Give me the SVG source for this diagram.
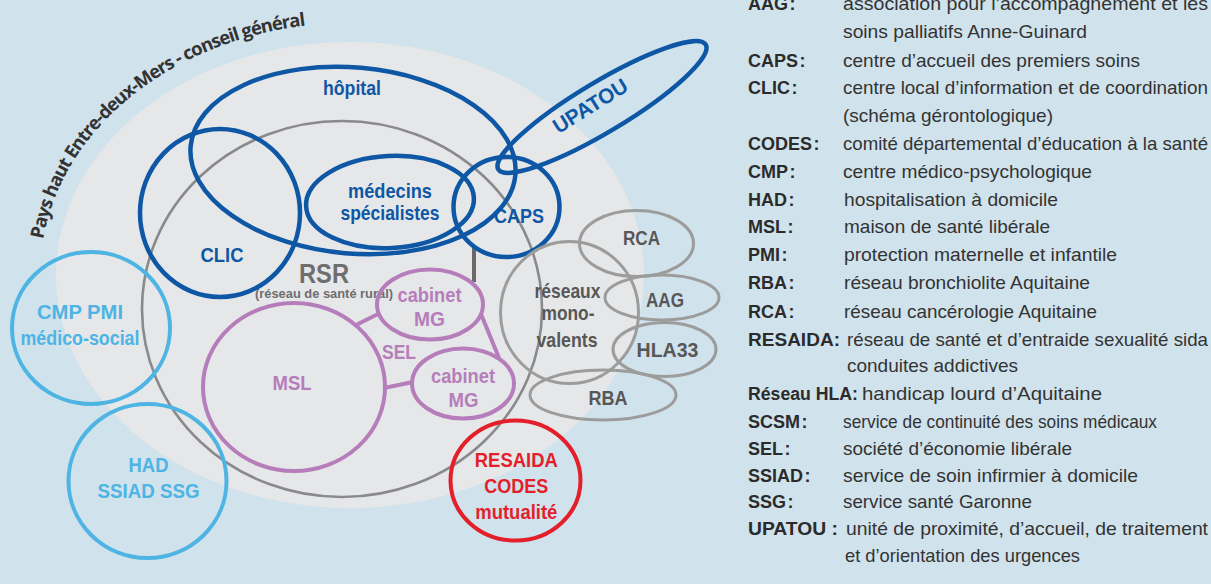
<svg xmlns="http://www.w3.org/2000/svg" width="1211" height="584" viewBox="0 0 1211 584">
  <defs>
    <style>
      .lbl { font-family: "Liberation Sans", Arial, sans-serif; font-weight: bold; font-size: 21px; text-anchor: middle; }
      .blueT { fill: #0d57a5; }
      .lblueT { fill: #4db4e4; }
      .purpT { fill: #b57ebb; }
      .redT { fill: #e31f2a; }
      .grayT { fill: #575757; }
      .rsrT { fill: #6e6e6e; }
      .blue { fill: none; stroke: #0d57a5; stroke-width: 4.5; }
      .lblue { fill: none; stroke: #4db4e4; stroke-width: 4; }
      .purp { fill: none; stroke: #b57ebb; stroke-width: 4; }
      .red { fill: none; stroke: #e31f2a; stroke-width: 4; }
      .gray { fill: none; stroke: #9c9c9c; stroke-width: 3; }
      .rsr { fill: none; stroke: #8a8a8c; stroke-width: 2.6; }
      .key { font-family: "Liberation Sans", Arial, sans-serif; font-weight: bold; font-size: 18px; fill: #2b2b2b; }
      .desc { font-family: "Liberation Sans", Arial, sans-serif; font-size: 18.5px; fill: #333333; }
      .title { font-family: "Open Sans", "Noto Sans", sans-serif; font-weight: 700; font-size: 18.5px; fill: #333333; }
    </style>
    <path id="arc" d="M 40 275 A 310 252 0 0 1 350 23 A 310 252 0 0 1 660 275"/>
  </defs>

  <!-- background and territory -->
  <rect x="0" y="0" width="1211" height="584" fill="#d0e2ec"/>
  <ellipse cx="350" cy="275" rx="294" ry="233" fill="#e6e7e9"/>
  <text class="title"><textPath href="#arc" startOffset="36" textLength="362">Pays haut Entre-deux-Mers - conseil général</textPath></text>

  <!-- rural health network -->
  <g id="rsr">
    <ellipse class="rsr" cx="342" cy="309" rx="200" ry="188"/>
    <text class="lbl rsrT" x="324" y="283" style="font-size:27px" textLength="50" lengthAdjust="spacingAndGlyphs">RSR</text>
    <text class="lbl rsrT" x="324" y="298" style="font-size:12.5px" textLength="138" lengthAdjust="spacingAndGlyphs">(réseau de santé rural)</text>
  </g>

  <!-- connectors -->
  <g id="connectors">
    <line x1="474" y1="246" x2="474" y2="282" stroke="#6a6a6a" stroke-width="4"/>
    <line x1="356" y1="325" x2="378" y2="314" stroke="#b57ebb" stroke-width="4"/>
    <line x1="384" y1="388" x2="413" y2="382" stroke="#b57ebb" stroke-width="4"/>
    <line x1="481" y1="314" x2="499" y2="358" stroke="#b57ebb" stroke-width="4"/>
  </g>

  <g id="hopital">
    <ellipse class="blue" cx="353" cy="160.5" rx="163" ry="93" transform="rotate(5 353 160.5)"/>
    <text class="lbl blueT" x="352" y="95" textLength="58" lengthAdjust="spacingAndGlyphs">hôpital</text>
  </g>
  <g id="clic">
    <ellipse class="blue" cx="220" cy="213" rx="80" ry="84"/>
    <text class="lbl blueT" x="222" y="262" textLength="43" lengthAdjust="spacingAndGlyphs">CLIC</text>
  </g>
  <g id="medecins">
    <ellipse class="blue" cx="390" cy="202" rx="84" ry="46" transform="rotate(-3 390 202)"/>
    <text class="lbl blueT" x="390" y="198" textLength="84" lengthAdjust="spacingAndGlyphs">médecins</text>
    <text class="lbl blueT" x="390" y="220" textLength="99" lengthAdjust="spacingAndGlyphs">spécialistes</text>
  </g>
  <g id="caps">
    <ellipse class="blue" cx="506.5" cy="207" rx="53" ry="50"/>
    <text class="lbl blueT" x="519" y="223" textLength="50" lengthAdjust="spacingAndGlyphs">CAPS</text>
  </g>
  <g id="upatou">
    <ellipse class="blue" cx="602" cy="107" rx="121" ry="25" transform="rotate(-31 602 107)" stroke-width="3.5"/>
    <text class="lbl blueT" x="0" y="0" textLength="84" lengthAdjust="spacingAndGlyphs" transform="translate(594 112) rotate(-32)">UPATOU</text>
  </g>

  <g id="cmp-pmi">
    <ellipse class="lblue" cx="91" cy="328" rx="79" ry="76"/>
    <text class="lbl lblueT" x="80" y="319" textLength="86" lengthAdjust="spacingAndGlyphs">CMP PMI</text>
    <text class="lbl lblueT" x="80" y="345" textLength="119" lengthAdjust="spacingAndGlyphs">médico-social</text>
  </g>
  <g id="had">
    <ellipse class="lblue" cx="147.5" cy="481" rx="79" ry="77"/>
    <text class="lbl lblueT" x="148.5" y="472" textLength="40" lengthAdjust="spacingAndGlyphs">HAD</text>
    <text class="lbl lblueT" x="148.5" y="498" textLength="102" lengthAdjust="spacingAndGlyphs">SSIAD SSG</text>
  </g>

  <g id="msl">
    <ellipse class="purp" cx="294" cy="387" rx="91" ry="84"/>
    <text class="lbl purpT" x="292" y="390" textLength="39" lengthAdjust="spacingAndGlyphs">MSL</text>
  </g>
  <g id="cabinet-1">
    <ellipse class="purp" cx="430" cy="304.5" rx="53" ry="35"/>
    <text class="lbl purpT" x="429.5" y="302" textLength="64" lengthAdjust="spacingAndGlyphs">cabinet</text>
    <text class="lbl purpT" x="429.5" y="326" textLength="31" lengthAdjust="spacingAndGlyphs">MG</text>
  </g>
  <g id="cabinet-2">
    <ellipse class="purp" cx="463" cy="383.5" rx="51" ry="35"/>
    <text class="lbl purpT" x="463" y="383" textLength="64" lengthAdjust="spacingAndGlyphs">cabinet</text>
    <text class="lbl purpT" x="463.5" y="407" textLength="30" lengthAdjust="spacingAndGlyphs">MG</text>
  </g>
  <g id="sel">
    <text class="lbl purpT" x="399" y="359" textLength="34" lengthAdjust="spacingAndGlyphs">SEL</text>
  </g>

  <g id="reseaux">
    <ellipse class="gray" cx="569.5" cy="312.5" rx="69" ry="71"/>
    <text class="lbl grayT" x="567.5" y="298" textLength="66" lengthAdjust="spacingAndGlyphs">réseaux</text>
    <text class="lbl grayT" x="568" y="320" textLength="53" lengthAdjust="spacingAndGlyphs">mono-</text>
    <text class="lbl grayT" x="567" y="347" textLength="61" lengthAdjust="spacingAndGlyphs">valents</text>
  </g>
  <g id="rca">
    <ellipse class="gray" cx="636.5" cy="243.5" rx="57" ry="33"/>
    <text class="lbl grayT" x="641.5" y="245" textLength="37" lengthAdjust="spacingAndGlyphs">RCA</text>
  </g>
  <g id="aag">
    <ellipse class="gray" cx="662" cy="297.5" rx="57" ry="22.5"/>
    <text class="lbl grayT" x="665" y="307" textLength="38" lengthAdjust="spacingAndGlyphs">AAG</text>
  </g>
  <g id="hla33">
    <ellipse class="gray" cx="664.5" cy="349.5" rx="51.5" ry="27"/>
    <text class="lbl grayT" x="667.5" y="357" textLength="62" lengthAdjust="spacingAndGlyphs">HLA33</text>
  </g>
  <g id="rba">
    <ellipse class="gray" cx="603" cy="395" rx="73" ry="25"/>
    <text class="lbl grayT" x="608" y="405" textLength="39" lengthAdjust="spacingAndGlyphs">RBA</text>
  </g>

  <g id="resaida">
    <ellipse class="red" cx="515.5" cy="480.5" rx="65" ry="60"/>
    <text class="lbl redT" x="516.3" y="467" textLength="83" lengthAdjust="spacingAndGlyphs">RESAIDA</text>
    <text class="lbl redT" x="516.3" y="493" textLength="64" lengthAdjust="spacingAndGlyphs">CODES</text>
    <text class="lbl redT" x="516.3" y="519" textLength="82" lengthAdjust="spacingAndGlyphs">mutualité</text>
  </g>

  <!-- glossary -->
  <g id="legend">
    <text class="key" x="748" y="10">AAG<tspan dx="1.5">:</tspan></text>
    <text class="desc" x="843" y="10" textLength="365" lengthAdjust="spacingAndGlyphs">association pour l’accompagnement et les</text>
    <text class="desc" x="843" y="38" textLength="244" lengthAdjust="spacingAndGlyphs">soins palliatifs Anne-Guinard</text>
    <text class="key" x="748" y="66.5">CAPS<tspan dx="1.5">:</tspan></text>
    <text class="desc" x="843" y="66.5" textLength="297" lengthAdjust="spacingAndGlyphs">centre d’accueil des premiers soins</text>
    <text class="key" x="748" y="94">CLIC<tspan dx="1.5">:</tspan></text>
    <text class="desc" x="843" y="94" textLength="365" lengthAdjust="spacingAndGlyphs">centre local d’information et de coordination</text>
    <text class="desc" x="843" y="121.5" textLength="210" lengthAdjust="spacingAndGlyphs">(schéma gérontologique)</text>
    <text class="key" x="748" y="150">CODES<tspan dx="1.5">:</tspan></text>
    <text class="desc" x="843" y="150" textLength="365" lengthAdjust="spacingAndGlyphs">comité départemental d’éducation à la santé</text>
    <text class="key" x="748" y="178">CMP<tspan dx="1.5">:</tspan></text>
    <text class="desc" x="843" y="178" textLength="249" lengthAdjust="spacingAndGlyphs">centre médico-psychologique</text>
    <text class="key" x="748" y="206">HAD<tspan dx="1.5">:</tspan></text>
    <text class="desc" x="844" y="206" textLength="214" lengthAdjust="spacingAndGlyphs">hospitalisation à domicile</text>
    <text class="key" x="748" y="233">MSL<tspan dx="1.5">:</tspan></text>
    <text class="desc" x="844" y="233" textLength="206" lengthAdjust="spacingAndGlyphs">maison de santé libérale</text>
    <text class="key" x="748" y="261">PMI<tspan dx="1.5">:</tspan></text>
    <text class="desc" x="844" y="261" textLength="273" lengthAdjust="spacingAndGlyphs">protection maternelle et infantile</text>
    <text class="key" x="748" y="289">RBA<tspan dx="1.5">:</tspan></text>
    <text class="desc" x="844" y="289" textLength="246" lengthAdjust="spacingAndGlyphs">réseau bronchiolite Aquitaine</text>
    <text class="key" x="748" y="318">RCA<tspan dx="1.5">:</tspan></text>
    <text class="desc" x="844" y="318" textLength="253" lengthAdjust="spacingAndGlyphs">réseau cancérologie Aquitaine</text>
    <text class="key" x="748" y="346" textLength="92" lengthAdjust="spacingAndGlyphs">RESAIDA:</text>
    <text class="desc" x="847" y="346" textLength="361" lengthAdjust="spacingAndGlyphs">réseau de santé et d’entraide sexualité sida</text>
    <text class="desc" x="847" y="372" textLength="171" lengthAdjust="spacingAndGlyphs">conduites addictives</text>
    <text class="key" x="748" y="400" textLength="110" lengthAdjust="spacingAndGlyphs">Réseau HLA:</text>
    <text class="desc" x="862" y="400" textLength="240" lengthAdjust="spacingAndGlyphs">handicap lourd d’Aquitaine</text>
    <text class="key" x="748" y="428">SCSM<tspan dx="1.5">:</tspan></text>
    <text class="desc" x="843" y="428" textLength="314" lengthAdjust="spacingAndGlyphs">service de continuité des soins médicaux</text>
    <text class="key" x="748" y="455">SEL<tspan dx="1.5">:</tspan></text>
    <text class="desc" x="843" y="455" textLength="229" lengthAdjust="spacingAndGlyphs">société d’économie libérale</text>
    <text class="key" x="748" y="481.5">SSIAD<tspan dx="1.5">:</tspan></text>
    <text class="desc" x="843" y="481.5" textLength="295" lengthAdjust="spacingAndGlyphs">service de soin infirmier à domicile</text>
    <text class="key" x="748" y="508">SSG<tspan dx="1.5">:</tspan></text>
    <text class="desc" x="843" y="508" textLength="189" lengthAdjust="spacingAndGlyphs">service santé Garonne</text>
    <text class="key" x="748" y="535" textLength="90" lengthAdjust="spacingAndGlyphs">UPATOU :</text>
    <text class="desc" x="846" y="535" textLength="362" lengthAdjust="spacingAndGlyphs">unité de proximité, d’accueil, de traitement</text>
    <text class="desc" x="845" y="562" textLength="235" lengthAdjust="spacingAndGlyphs">et d’orientation des urgences</text>
  </g>
</svg>
